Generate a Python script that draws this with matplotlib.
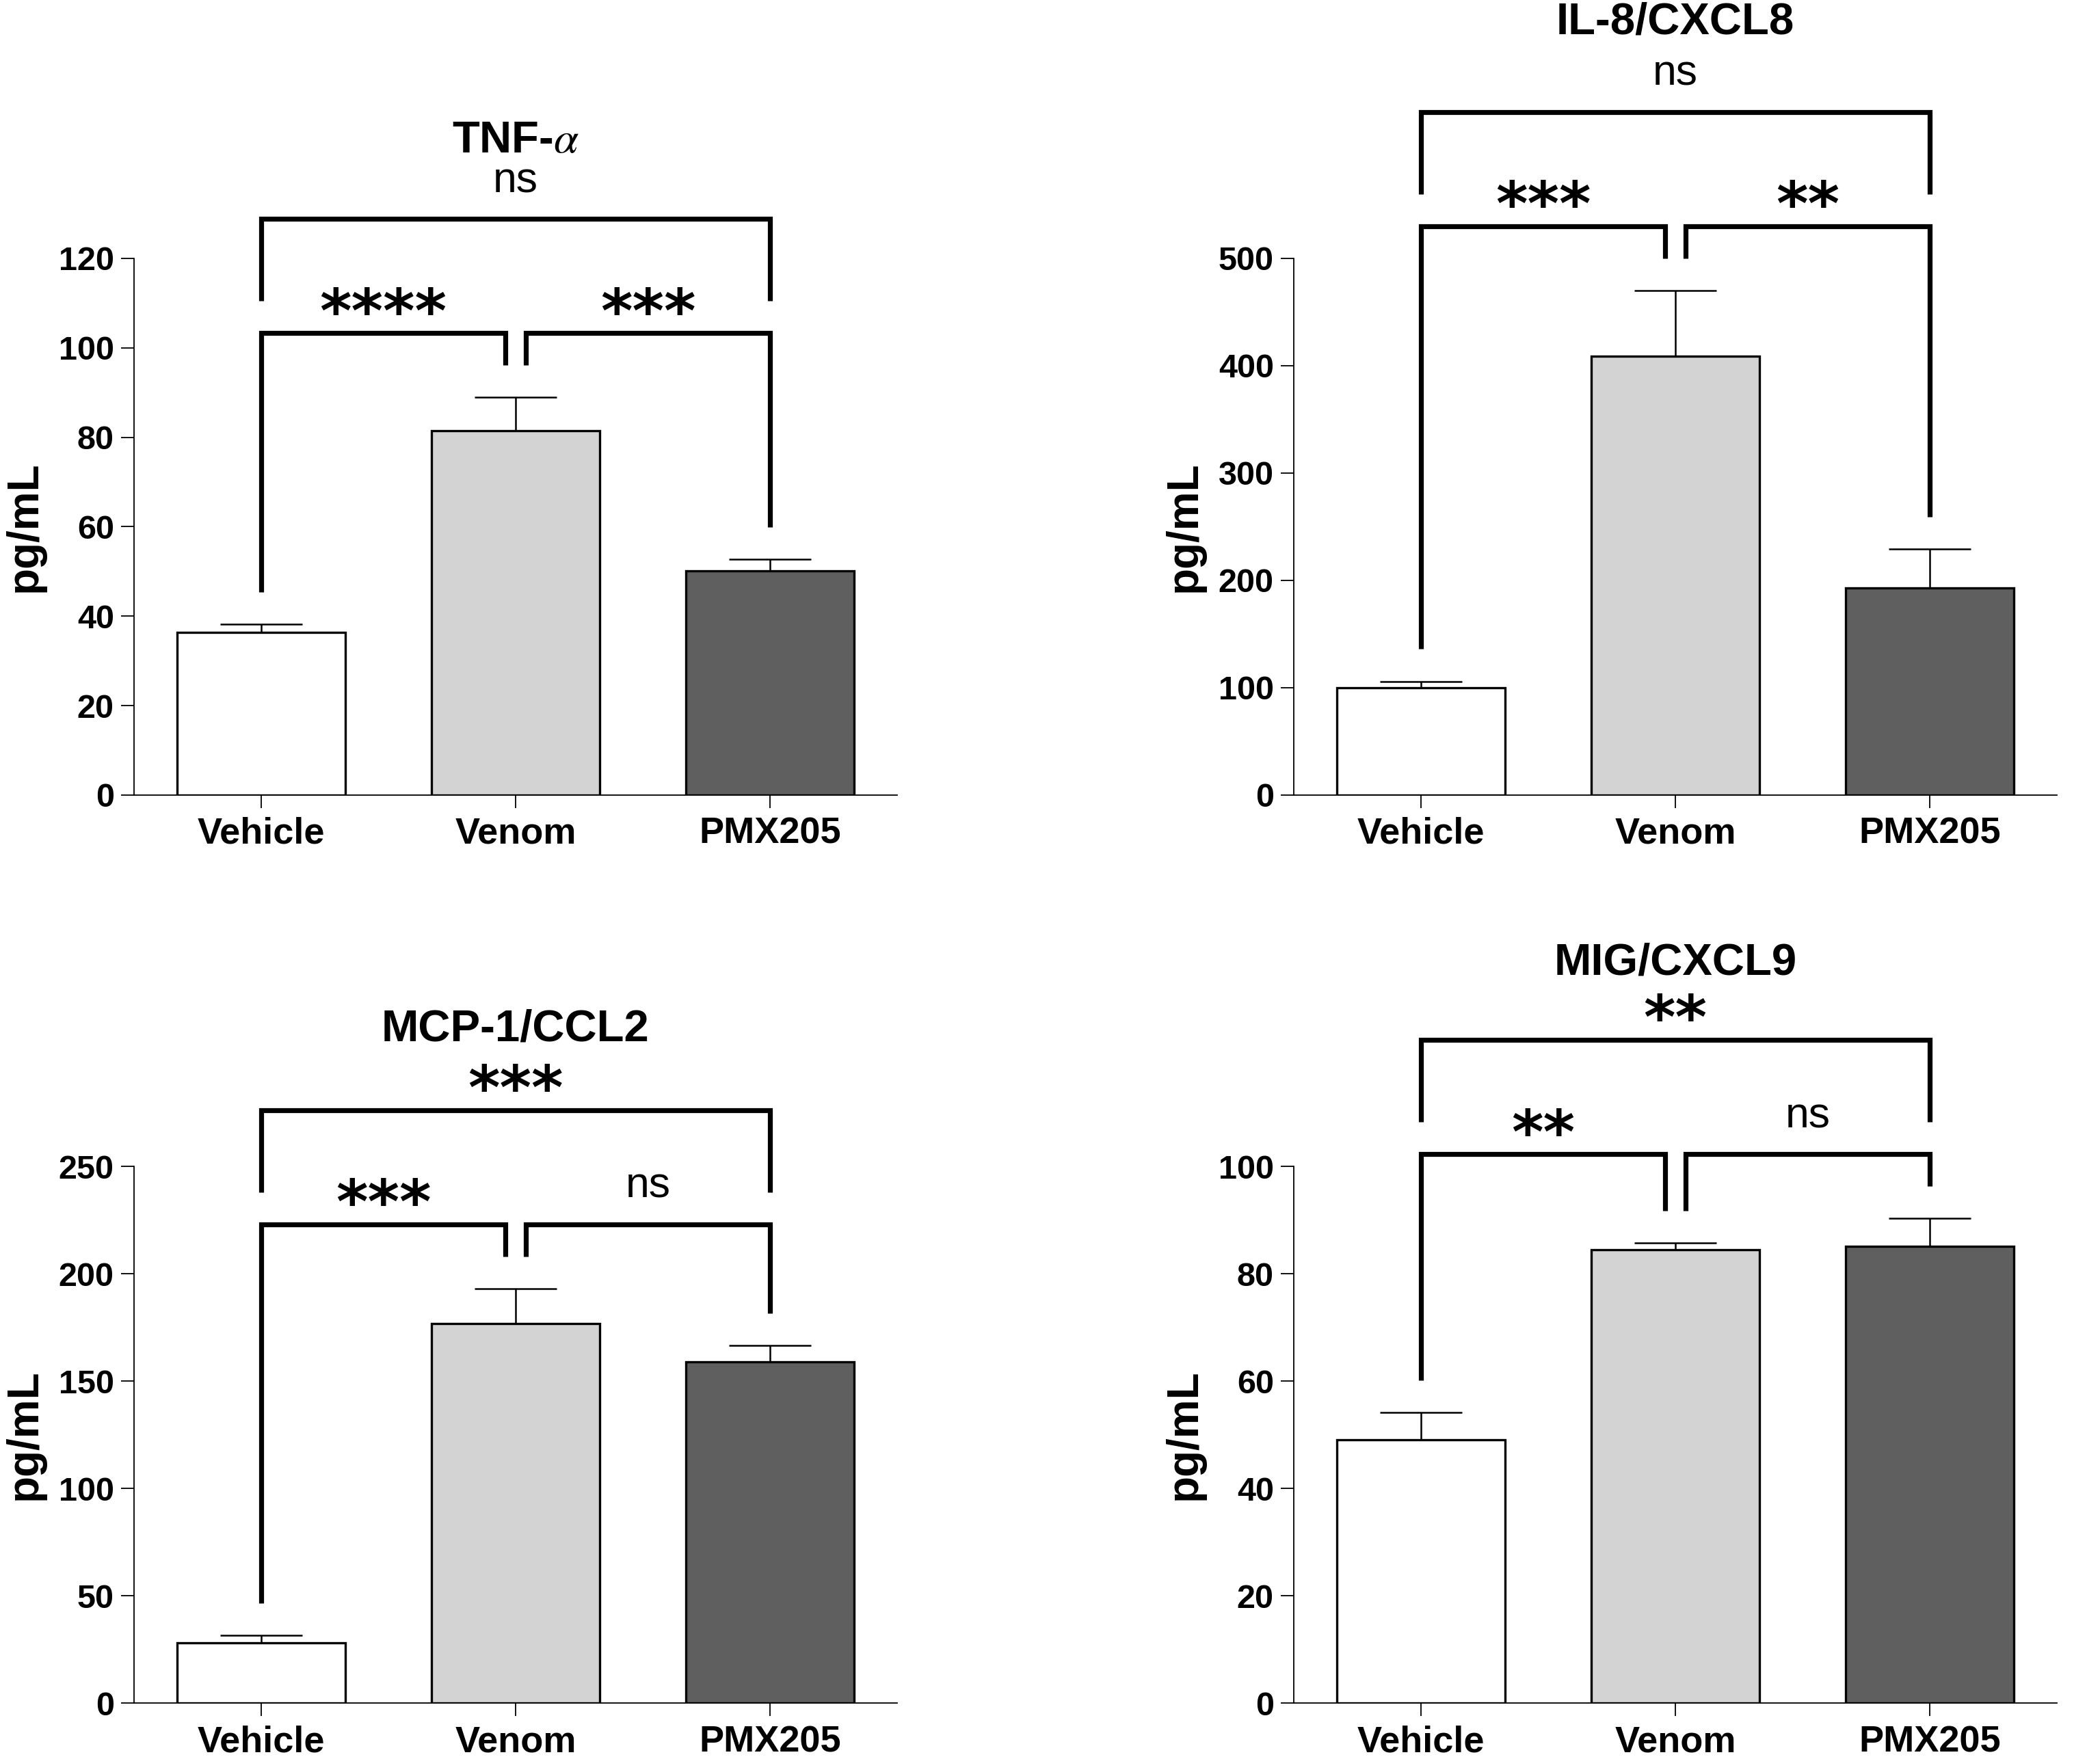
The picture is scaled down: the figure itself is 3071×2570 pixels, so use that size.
import matplotlib.pyplot as plt

plt.rcParams["font.family"] = ["Liberation Sans", "DejaVu Sans"]
plt.rcParams["mathtext.fontset"] = "stix"

# ---- data ----
GROUPS = ["Vehicle", "Venom", "PMX205"]
BAR_COLORS = ["white", "#d3d3d3", "#5f5f5f"]

TNF_MEAN = [36.4, 81.5, 50.2]
TNF_SEM = [1.8, 7.4, 2.5]
TNF_SIG = ["****", "***", "ns"]      # Veh-Ven, Ven-PMX, Veh-PMX

IL8_MEAN = [100, 409, 193]
IL8_SEM = [6, 61, 36]
IL8_SIG = ["***", "**", "ns"]

MCP_MEAN = [28.1, 176.8, 158.8]
MCP_SEM = [3.4, 16.2, 7.9]
MCP_SIG = ["***", "ns", "***"]

MIG_MEAN = [49.0, 84.5, 85.1]
MIG_SEM = [5.2, 1.2, 5.2]
MIG_SIG = ["**", "ns", "**"]

# ---- layout ----
FIG_W, FIG_H = 3071, 2570
LEFT_COL, RIGHT_COL = 196 / FIG_W, 1892 / FIG_W
TOP_ROW, BOT_ROW = 0.5475, 0.0307
AX_W, AX_H = 1116 / FIG_W, 785 / FIG_H

panels = [
    dict(title=r"TNF-$\alpha$", mean=TNF_MEAN, sem=TNF_SEM, sig=TNF_SIG,
         ymax=120, step=20, pos=(LEFT_COL, TOP_ROW), title_y=1.197),
    dict(title="IL-8/CXCL8", mean=IL8_MEAN, sem=IL8_SEM, sig=IL8_SIG,
         ymax=500, step=100, pos=(RIGHT_COL, TOP_ROW), title_y=1.418),
    dict(title="MCP-1/CCL2", mean=MCP_MEAN, sem=MCP_SEM, sig=MCP_SIG,
         ymax=250, step=50, pos=(LEFT_COL, BOT_ROW), title_y=1.234),
    dict(title="MIG/CXCL9", mean=MIG_MEAN, sem=MIG_SEM, sig=MIG_SIG,
         ymax=100, step=20, pos=(RIGHT_COL, BOT_ROW), title_y=1.358),
]


def sig_label(ax, x, y, text):
    if text == "ns":
        ax.annotate(text, xy=(x, y), xytext=(0, 28), textcoords="offset points",
                    ha="center", va="baseline", fontsize=45, annotation_clip=False)
    else:
        ax.annotate(text, xy=(x, y), xytext=(0, 1), textcoords="offset points",
                    ha="center", va="baseline", fontsize=64, fontweight="bold",
                    family="DejaVu Sans", annotation_clip=False)


def bracket(ax, x0, x1, y, y_left, y_right, text):
    ax.plot([x0, x0, x1, x1], [y_left, y, y, y_right], color="black", lw=5.2,
            clip_on=False, solid_joinstyle="miter", solid_capstyle="butt", zorder=5)
    sig_label(ax, (x0 + x1) / 2, y, text)


def main():
    fig = plt.figure(figsize=(FIG_W / 100, FIG_H / 100), dpi=100)
    x = list(range(len(GROUPS)))

    for p in panels:
        ax = fig.add_axes([p["pos"][0], p["pos"][1], AX_W, AX_H])
        ymax = p["ymax"]
        mean, sem = p["mean"], p["sem"]

        ax.errorbar(x, mean, yerr=sem, fmt="none", ecolor="black", elinewidth=1.8,
                    capsize=43, capthick=1.8, zorder=1)
        ax.bar(x, mean, width=0.66, color=BAR_COLORS, edgecolor="black",
               linewidth=2.4, zorder=2)

        ax.set_xlim(-0.5, 2.5)
        ax.set_ylim(0, ymax)
        ax.set_yticks(range(0, ymax + 1, p["step"]))
        ax.set_xticks(x)
        ax.set_xticklabels(GROUPS, fontsize=39, fontweight="bold")
        for lab in ax.get_yticklabels():
            lab.set_fontsize(35)
            lab.set_fontweight("bold")
        ax.tick_params(axis="both", length=14, width=1.3, pad=7, color="black")
        ax.tick_params(axis="x", pad=9)
        for side in ["top", "right"]:
            ax.spines[side].set_visible(False)
        for side in ["left", "bottom"]:
            ax.spines[side].set_linewidth(1.3)

        ax.set_ylabel("pg/mL", fontsize=46, fontweight="bold")
        ax.yaxis.set_label_coords(-0.117, 0.5)

        ax.text(0.5, p["title_y"], p["title"], transform=ax.transAxes,
                ha="center", va="baseline", fontsize=47, fontweight="bold")

        # significance brackets
        tops = [m + s for m, s in zip(mean, sem)]
        leg = 0.06 * ymax
        low = max(tops) + 0.12 * ymax
        high = low + 0.213 * ymax
        bracket(ax, 0, 0.96, low, tops[0] + leg, tops[1] + leg, p["sig"][0])
        bracket(ax, 1.04, 2, low, tops[1] + leg, tops[2] + leg, p["sig"][1])
        bracket(ax, 0, 2, high, low + leg, low + leg, p["sig"][2])

    fig.savefig("out.png", dpi=100)


if __name__ == "__main__":
    main()
